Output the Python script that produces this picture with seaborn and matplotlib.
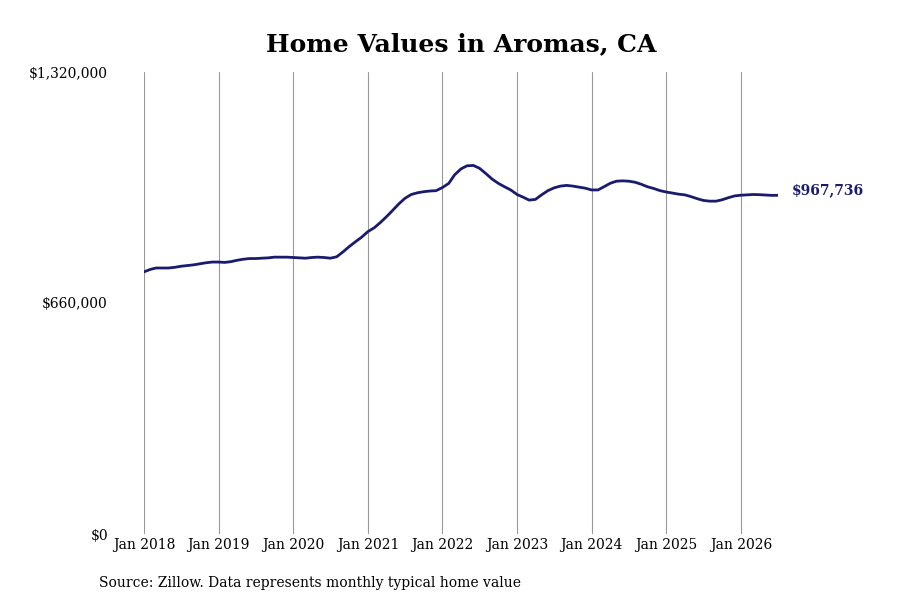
import pandas as pd
import numpy as np
import matplotlib.pyplot as plt
import matplotlib.dates as mdates
import seaborn as sns

# 月度典型房屋价值 (Jan 2018 - Jul 2026)
dates = pd.date_range('2018-01-01', '2026-07-01', freq='MS')
values = [
    749000, 756000, 760000, 760000, 760000, 762000, 765000, 767000, 769000, 772000, 775000, 777000,
    777000, 776000, 778000, 782000, 785000, 787000, 787000, 788000, 789000, 791000, 791000, 791000,
    790000, 789000, 788000, 790000, 791000, 790000, 788000, 792000, 806000, 821000, 835000, 848000,
    864000, 875000, 889000, 906000, 924000, 943000, 959000, 970000, 975000, 978000, 980000, 981000,
    990000, 1002000, 1026000, 1043000, 1052000, 1053000, 1045000, 1030000, 1014000, 1002000, 992000, 983000,
    970000, 962000, 954000, 956000, 969000, 981000, 989000, 994000, 996000, 994000, 991000, 988000,
    983000, 983000, 992000, 1002000, 1008000, 1009000, 1008000, 1005000, 999000, 992000, 987000, 981000,
    977000, 974000, 971000, 969000, 964000, 958000, 953000, 951000, 951000, 955000, 961000, 966000,
    968000, 969000, 970000, 969500, 968500, 967500, 967736,
]
tick_years = list(range(2018, 2027))
y_ticks = [0, 660000, 1320000]

df = pd.DataFrame({'date': dates, 'value': values})

sns.set_theme(style='white')
plt.rcParams['font.family'] = ['DejaVu Serif']
plt.rcParams['text.color'] = 'black'
plt.rcParams['xtick.color'] = 'black'
plt.rcParams['ytick.color'] = 'black'

line_color = '#1a1a6e'

fig = plt.figure(figsize=(9, 6), dpi=100)
ax = fig.add_axes([0.16, 0.11, 0.7044, 0.77])

sns.lineplot(data=df, x='date', y='value', ax=ax, color=line_color, linewidth=2)

ax.set_xlim(pd.Timestamp('2018-01-01'), pd.Timestamp('2026-07-01'))
ax.set_ylim(0, 1320000)
ax.set_yticks(y_ticks)
ax.set_yticklabels([f'${v:,.0f}' for v in y_ticks], fontsize=10)
ax.set_xticks([pd.Timestamp(f'{y}-01-01') for y in tick_years])
ax.set_xticklabels([f'Jan {y}' for y in tick_years], fontsize=10)
ax.tick_params(axis='y', length=0, pad=26)
ax.tick_params(axis='x', length=0, pad=3)
ax.xaxis.grid(True, color='#999999', linewidth=0.8)
ax.yaxis.grid(False)
for s in ax.spines.values():
    s.set_visible(False)
ax.set_xlabel('')
ax.set_ylabel('')

last_date = df['date'].iloc[-1]
last_val = df['value'].iloc[-1]
ax.annotate(f'${last_val:,.0f}', xy=(last_date, last_val), xytext=(10, 4),
            textcoords='offset points', fontsize=10, fontweight='bold',
            color=line_color, va='center', ha='left', annotation_clip=False)

fig.suptitle('Home Values in Aromas, CA', fontsize=18, fontweight='bold', x=0.512, y=0.946)
fig.text(0.11, 0.022, 'Source: Zillow. Data represents monthly typical home value', fontsize=10)

fig.savefig('out.png', dpi=100)
